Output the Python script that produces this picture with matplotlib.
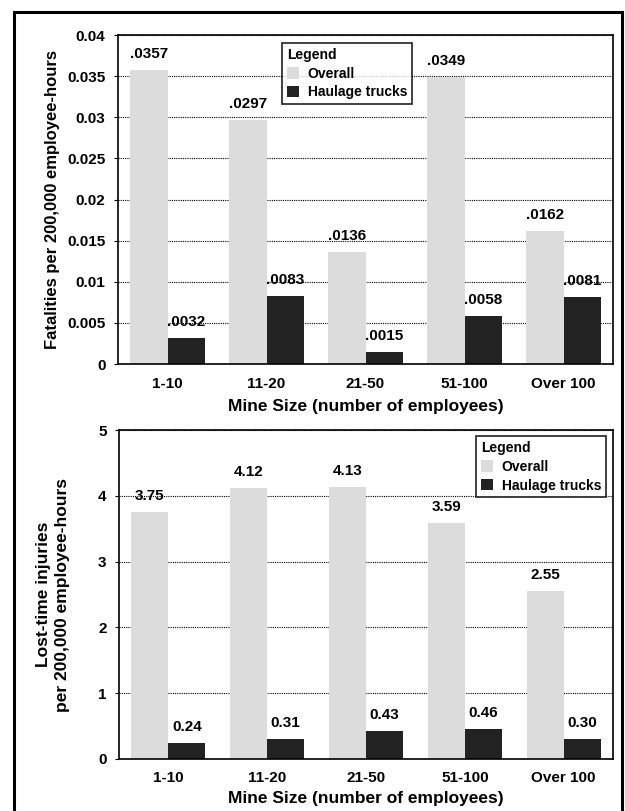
import numpy as np
import matplotlib
matplotlib.use("Agg")
import matplotlib.pyplot as plt
from matplotlib.patches import Rectangle

plt.rcParams['font.family'] = ['Liberation Sans', 'DejaVu Sans']
plt.rcParams['font.weight'] = 'bold'

# Data
sizes = ['1-10', '11-20', '21-50', '51-100', 'Over 100']
fatal_overall = [0.0357, 0.0297, 0.0136, 0.0349, 0.0162]
fatal_haulage = [0.0032, 0.0083, 0.0015, 0.0058, 0.0081]
fatal_overall_txt = ['.0357', '.0297', '.0136', '.0349', '.0162']
fatal_haulage_txt = ['.0032', '.0083', '.0015', '.0058', '.0081']
inj_overall = [3.75, 4.12, 4.13, 3.59, 2.55]
inj_haulage = [0.24, 0.31, 0.43, 0.46, 0.30]

C_OVER = '#dcdcdc'
C_HAUL = '#222222'
W, H = 625, 811

fig = plt.figure(figsize=(W / 100, H / 100), dpi=100)

# outer frame
fig.patches.append(Rectangle((14 / W, -0.01), 608 / W, 1 - 12 / H + 0.01,
                             transform=fig.transFigure, fill=False,
                             edgecolor='black', linewidth=2.2))


def make_axes(x0, y0, x1, y1):
    return fig.add_axes([x0 / W, 1 - y1 / H, (x1 - x0) / W, (y1 - y0) / H])


ax1 = make_axes(118, 35, 613, 364)
ax2 = make_axes(119, 430, 613, 759)

x = np.arange(len(sizes))
bw = 0.375


def draw(ax, overall, haulage, over_txt, haul_txt, ymax, step, fmt, lpos, lalign, xpad):
    ax.bar(x - bw / 2, overall, bw, color=C_OVER, label='Overall', zorder=2)
    ax.bar(x + bw / 2, haulage, bw, color=C_HAUL, label='Haulage trucks', zorder=2)
    for xi, v, t in zip(x, overall, over_txt):
        ax.annotate(t, (xi - bw / 2, v), xytext=(0, 11.5), textcoords='offset points',
                    ha='center', va='center', fontsize=11, fontweight='bold', zorder=3)
    for xi, v, t in zip(x, haulage, haul_txt):
        ax.annotate(t, (xi + bw / 2, v), xytext=(0, 11.5), textcoords='offset points',
                    ha='center', va='center', fontsize=11, fontweight='bold', zorder=3)
    ax.set_xlim(-0.5, 4.5)
    ax.set_ylim(0, ymax)
    ticks = np.arange(0, ymax + step / 2, step)
    ax.set_yticks(ticks)
    ax.set_yticklabels([fmt(t) for t in ticks], fontsize=11, fontweight='bold')
    ax.set_xticks(x)
    ax.set_xticklabels(sizes, fontsize=11, fontweight='bold')
    ax.tick_params(axis='x', length=0, pad=9)
    ax.tick_params(axis='y', length=3, width=0.8, pad=6)
    ax.set_axisbelow(True)
    ax.yaxis.grid(True, linestyle=(0, (1, 1)), color='black', linewidth=0.8)
    for s in ax.spines.values():
        s.set_linewidth(1.2)
    ax.set_xlabel('Mine Size (number of employees)', fontsize=12.5,
                  fontweight='bold', labelpad=xpad)
    leg = ax.legend(loc=lalign, bbox_to_anchor=lpos, title='Legend',
                    fontsize=10, title_fontproperties={'weight': 'bold', 'size': 10},
                    alignment='left', fancybox=False, edgecolor='black',
                    handlelength=0.9, handleheight=0.9, handletextpad=0.6,
                    borderpad=0.35, labelspacing=0.35, borderaxespad=0)
    leg.get_frame().set_linewidth(1.3)
    for t in leg.get_texts():
        t.set_fontweight('bold')


def fmt_fatal(t):
    return '0' if t == 0 else ('%.3f' % t).rstrip('0')


draw(ax1, fatal_overall, fatal_haulage, fatal_overall_txt, fatal_haulage_txt,
     0.04, 0.005, fmt_fatal, (0.331, 0.976), 'upper left', 6)
draw(ax2, inj_overall, inj_haulage, ['%.2f' % v for v in inj_overall],
     ['%.2f' % v for v in inj_haulage], 5, 1, lambda t: '%d' % t,
     (0.986, 0.982), 'upper right', 4)

ax1.set_ylabel('Fatalities per 200,000 employee-hours', fontsize=12,
               fontweight='bold', labelpad=5)
ax2.set_ylabel('Lost-time injuries\nper 200,000 employee-hours', fontsize=12.5,
               fontweight='bold', labelpad=20, linespacing=1.35,
               multialignment='center')

fig.savefig('out.png', dpi=100)
